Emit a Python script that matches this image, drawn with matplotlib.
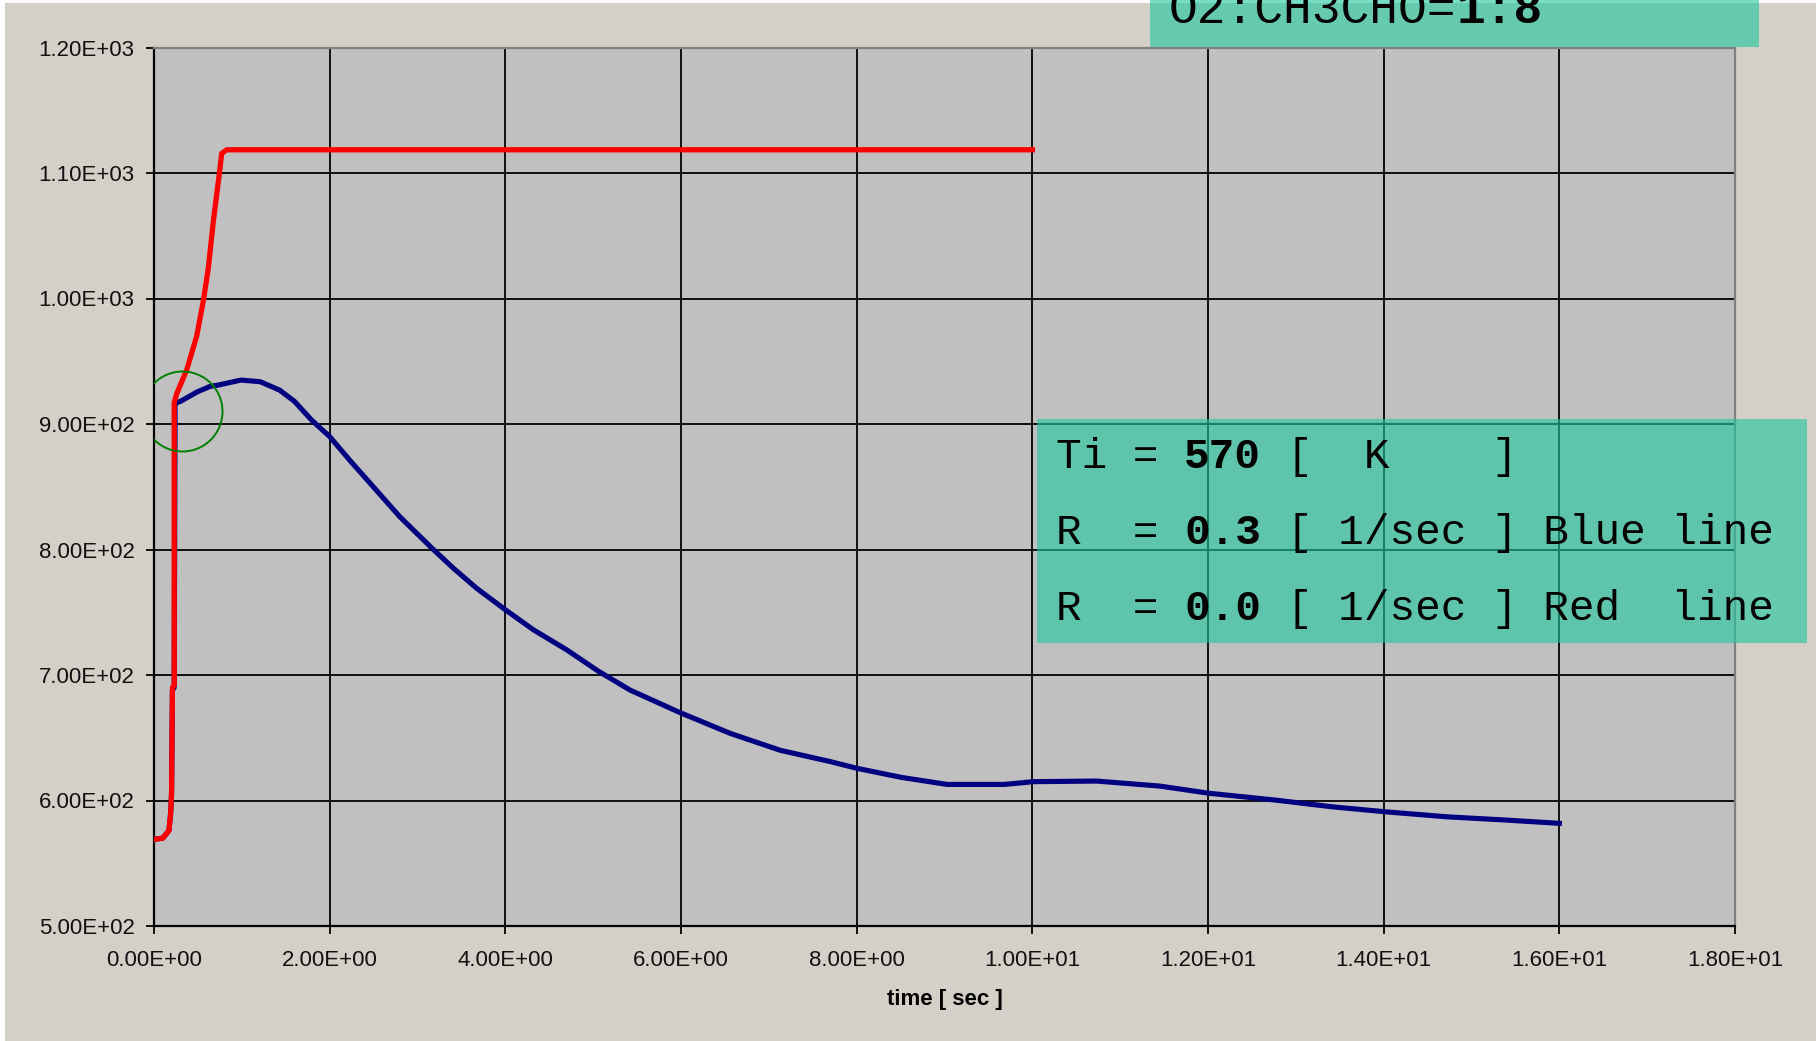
import numpy as np
import matplotlib.pyplot as plt
from matplotlib.patches import Rectangle
from matplotlib.ticker import FuncFormatter, MultipleLocator

# red line: R = 0.0 1/sec
red_t = [0.0, 0.10, 0.17, 0.19, 0.20, 0.21, 0.23, 0.23, 0.258, 0.372, 0.486,
         0.564, 0.62, 0.676, 0.745, 0.771, 0.828, 10.0]
red_T = [569, 570, 576, 590, 606, 690, 692, 917, 924, 943, 970,
         999, 1025, 1062, 1100, 1115.6, 1118.5, 1118.5]

# blue line: R = 0.3 1/sec
blue_t = [0.0, 0.10, 0.17, 0.19, 0.20, 0.21, 0.23, 0.24, 0.26, 0.30, 0.49,
          0.64, 0.73, 0.99, 1.21, 1.43, 1.60, 1.796, 2.0, 2.23, 2.61, 2.80,
          3.18, 3.41, 3.675, 4.0, 4.32, 4.70, 5.06, 5.42, 5.99, 6.56, 7.13,
          7.70, 8.0, 8.51, 9.03, 9.68, 10.01, 10.73, 11.45, 12.02, 12.76,
          13.41, 14.02, 14.72, 15.37, 16.0]
blue_T = [569, 570, 576, 590, 606, 688, 690, 916.5, 917, 918, 925.5,
          930, 931, 935, 933.7, 927, 918, 903, 890, 871, 841, 826,
          800, 785, 769, 752, 736, 720, 703, 688, 670, 653.5, 640,
          631, 625.7, 618.4, 612.8, 612.8, 615, 615.5, 611.5, 605.7, 600.4,
          595, 591, 587, 584.5, 581.8]

circle_t, circle_T = 0.32, 910.4

info_lines = [("Ti = ", "570", " [  K    ]"),
              ("R  = ", "0.3", " [ 1/sec ] Blue line"),
              ("R  = ", "0.0", " [ 1/sec ] Red  line")]
ratio_normal, ratio_bold = "O2:CH3CHO=", "1:8"

W, H = 1820, 1041
fig = plt.figure(figsize=(W / 100, H / 100), dpi=100, facecolor='white')
fig.patches.append(Rectangle((5 / W, 0), 1811 / W, 1 - 3 / H, transform=fig.transFigure,
                             facecolor='#d4d0c8', edgecolor='none', zorder=-5))

ax = fig.add_axes([154 / W, 1 - 926 / H, (1735 - 154) / W, (926 - 47.5) / H])
ax.set_facecolor('#c0c0c0')
ax.set_axisbelow(True)
ax.grid(True, color='#101010', lw=1.4)

ax.plot(blue_t, blue_T, color='#000080', lw=3.7, zorder=3)
ax.plot(red_t, red_T, color='#ff0000', lw=3.8, zorder=4)
ax.plot([circle_t], [circle_T], marker='o', ms=57.6, mfc='none', mec='#008000',
        mew=1.4, zorder=5)

ax.set_xlim(0, 18)
ax.set_ylim(500, 1200)
ax.xaxis.set_major_locator(MultipleLocator(2))
ax.yaxis.set_major_locator(MultipleLocator(100))
fmt = FuncFormatter(lambda v, p: f"{v:.2E}")
ax.xaxis.set_major_formatter(fmt)
ax.yaxis.set_major_formatter(fmt)
ax.tick_params(axis='both', length=6, width=1.3, color='black', labelsize=16,
               labelcolor='#111111')
ax.tick_params(axis='x', pad=11)
ax.tick_params(axis='y', pad=8)
for lab in ax.get_xticklabels() + ax.get_yticklabels():
    lab.set_fontfamily('Liberation Sans')

for side in ['top', 'right']:
    ax.spines[side].set_color('#808080')
    ax.spines[side].set_linewidth(1.6)
for side in ['left', 'bottom']:
    ax.spines[side].set_color('black')
    ax.spines[side].set_linewidth(1.6)

ax.set_xlabel("time [ sec ]", fontsize=16, fontweight='bold', family='Liberation Sans')
ax.xaxis.set_label_coords(0.5, -0.072)
ax.xaxis.label.set_va('top')

# info boxes
teal = (29 / 255, 199 / 255, 157 / 255)
fig.patches.append(Rectangle((1037 / W, 1 - 643 / H), 770 / W, 224 / H,
                             transform=fig.transFigure, facecolor=teal, alpha=0.6,
                             edgecolor='none', zorder=5))
fig.patches.append(Rectangle((1150 / W, 1 - 47.3 / H), 609 / W, 60 / H,
                             transform=fig.transFigure, facecolor=teal, alpha=0.6,
                             edgecolor='none', zorder=5))

mono = 'Liberation Mono'
fs = 30.8
cw = 0.6 * fs / 72 * 100 / W  # one character advance in figure coords
x0 = 1056 / W
for i, (a, b, c) in enumerate(info_lines):
    y = 1 - (468 + 76 * i) / H
    fig.text(x0, y, a, family=mono, fontsize=fs, va='baseline', zorder=6)
    fig.text(x0 + len(a) * cw, y, b, family=mono, fontsize=fs, fontweight='bold',
             va='baseline', zorder=6)
    fig.text(x0 + (len(a) + len(b) + 1) * cw, y, c.lstrip(), family=mono, fontsize=fs,
             va='baseline', zorder=6)

fs2 = 34.5
cw2 = 0.6 * fs2 / 72 * 100 / W
x1 = 1169 / W
y1 = 1 - 22.7 / H
fig.text(x1, y1, ratio_normal, family=mono, fontsize=fs2, va='baseline', zorder=6)
fig.text(x1 + len(ratio_normal) * cw2, y1, ratio_bold, family=mono, fontsize=fs2,
         fontweight='bold', va='baseline', zorder=6)

fig.savefig('out.png', dpi=100, facecolor='white')
